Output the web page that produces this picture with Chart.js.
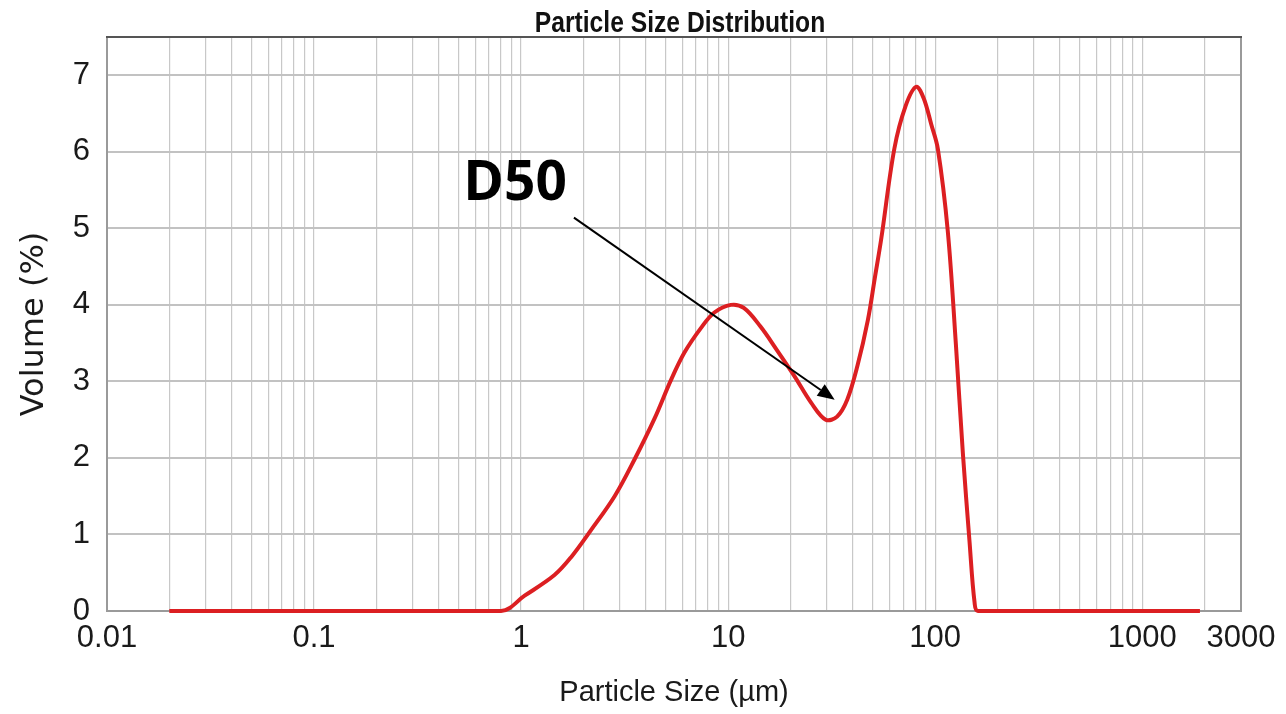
<!DOCTYPE html>
<html>
<head>
<meta charset="utf-8">
<title>Particle Size Distribution</title>
<script src="https://cdn.jsdelivr.net/npm/chart.js@4.4.1/dist/chart.umd.min.js"></script>
<style>
  html, body { margin: 0; padding: 0; background: #ffffff; }
  #wrap { width: 1286px; height: 714px; position: relative; }
</style>
</head>
<body>
<div id="wrap"><canvas id="psdChart"></canvas></div>
<script>
// --- 1. DATA ---
const sizes   = [0.02, 0.8, 1.04, 1.45, 1.74, 2.18, 2.83, 3.53, 4.42, 5.3, 6.16, 7.4, 8.58, 10.3, 11.9, 14.3, 17.2, 20.9, 25.2, 29.6, 33.6, 37.6, 42.1, 47.3, 51.1, 54.8, 63.5, 72, 81, 88, 95.7, 103, 115, 126, 136, 146.5, 155, 161, 1900];
const volumes = [0, 0, 0.2, 0.47, 0.7, 1.06, 1.5, 1.98, 2.52, 3.02, 3.38, 3.7, 3.9, 4.0, 3.96, 3.72, 3.41, 3.07, 2.72, 2.5, 2.54, 2.76, 3.2, 3.8, 4.35, 4.85, 6.04, 6.6, 6.85, 6.7, 6.36, 6.04, 4.97, 3.47, 2.07, 0.91, 0.11, 0, 0];

const xTickLabels = [0.01, 0.1, 1, 10, 100, 1000, 3000];
const yTicks = [0, 1, 2, 3, 4, 5, 6, 7];
const xDecades = [0.01, 0.1, 1, 10, 100, 1000];

const chartTitle = 'Particle Size Distribution';

// D50 note, in data units
const noteText = 'D50';
const notePos = { x: 0.936, y: 5.58 };
const arrowFrom = { x: 1.80, y: 5.14 };
const arrowTo = { x: 32.7, y: 2.76 };

// gridlines at 1..9 x each decade, up to 3000
const xGrid = [];
xDecades.forEach(d => {
    for (let m = 1; m <= 9; m++) {
        const v = Math.round(m * d * 1e6) / 1e6;
        if (v <= 3000) xGrid.push(v);
    }
});

const sans = "'Liberation Sans', Arial, sans-serif";

// --- 2. FRAME, TITLE + ANNOTATION ---
const framePlugin = {
    id: 'frameAndNote',
    beforeDatasetsDraw(chart) {
        const { ctx, chartArea: a } = chart;
        ctx.save();
        ctx.strokeStyle = '#9a9a9a';
        ctx.lineWidth = 2;
        ctx.strokeRect(a.left, a.top, a.right - a.left, a.bottom - a.top);
        ctx.strokeStyle = '#555555';
        ctx.beginPath();
        ctx.moveTo(a.left - 1, a.top);
        ctx.lineTo(a.right + 1, a.top);
        ctx.stroke();

        // condensed bold title over the plot
        ctx.font = 'bold 29px ' + sans;
        ctx.fillStyle = '#111';
        ctx.textAlign = 'center';
        ctx.textBaseline = 'alphabetic';
        ctx.translate((a.left + a.right) / 2 + 6, a.top - 5);
        ctx.scale(0.85, 1);
        ctx.fillText(chartTitle, 0, 0);
        ctx.restore();
    },
    afterDatasetsDraw(chart) {
        const { ctx, scales: { x, y } } = chart;
        const x0 = x.getPixelForValue(arrowFrom.x), y0 = y.getPixelForValue(arrowFrom.y);
        const x1 = x.getPixelForValue(arrowTo.x), y1 = y.getPixelForValue(arrowTo.y);
        const ang = Math.atan2(y1 - y0, x1 - x0);
        const head = 17, half = 7;
        ctx.save();
        ctx.strokeStyle = '#000';
        ctx.fillStyle = '#000';
        ctx.lineWidth = 2;
        ctx.beginPath();
        ctx.moveTo(x0, y0);
        ctx.lineTo(x1 - Math.cos(ang) * head, y1 - Math.sin(ang) * head);
        ctx.stroke();
        ctx.beginPath();
        ctx.moveTo(x1, y1);
        ctx.lineTo(x1 - Math.cos(ang) * head - Math.sin(ang) * half, y1 - Math.sin(ang) * head + Math.cos(ang) * half);
        ctx.lineTo(x1 - Math.cos(ang) * head + Math.sin(ang) * half, y1 - Math.sin(ang) * head - Math.cos(ang) * half);
        ctx.closePath();
        ctx.fill();

        ctx.font = "bold 55px 'Open Sans', 'Noto Sans', sans-serif";
        ctx.textAlign = 'center';
        ctx.textBaseline = 'middle';
        ctx.fillText(noteText, x.getPixelForValue(notePos.x), y.getPixelForValue(notePos.y));
        ctx.restore();
    }
};

// --- 3. CHART ---
const ctx = document.getElementById('psdChart').getContext('2d');

const chart = new Chart(ctx, {
    type: 'line',
    data: {
        datasets: [{
            label: 'Volume (%)',
            data: sizes.map((s, i) => ({ x: s, y: volumes[i] })),
            borderColor: '#dc1f22',
            borderWidth: 4,
            pointRadius: 0,
            tension: 0.35,
            fill: false,
            clip: false
        }]
    },
    options: {
        responsive: true,
        maintainAspectRatio: false,
        animation: false,
        layout: { padding: { left: 0, right: 45, top: 37, bottom: 0 } },
        plugins: {
            legend: { display: false },
            tooltip: { enabled: false },
            title: { display: false }
        },
        scales: {
            x: {
                type: 'logarithmic',
                min: 0.01,
                max: 3000,
                afterBuildTicks: (scale) => { scale.ticks = xGrid.map(v => ({ value: v })); },
                afterFit: (scale) => { scale.height = 103; },
                border: { display: false },
                grid: { color: '#c8c8c8', lineWidth: 1.2, drawTicks: false },
                ticks: {
                    autoSkip: false,
                    maxRotation: 0,
                    padding: 9,
                    color: '#1a1a1a',
                    font: { family: sans, size: 31 },
                    callback: (v) => xTickLabels.includes(v) ? String(v) : ''
                },
                title: {
                    display: true,
                    text: 'Particle Size (µm)',
                    color: '#1a1a1a',
                    font: { family: sans, size: 29 },
                    padding: { top: 0, bottom: 4 }
                }
            },
            y: {
                min: 0,
                max: 7.5,
                afterBuildTicks: (scale) => { scale.ticks = yTicks.map(v => ({ value: v })); },
                afterFit: (scale) => { scale.width = 107; },
                border: { display: false },
                grid: { color: '#c2c2c2', lineWidth: 2, drawTicks: false },
                ticks: {
                    padding: 17,
                    color: '#1a1a1a',
                    font: { family: sans, size: 31 }
                },
                title: {
                    display: true,
                    text: 'Volume (%)',
                    color: '#1a1a1a',
                    font: { family: "'DejaVu Sans', sans-serif", size: 32 },
                    padding: { top: 15, bottom: 0 }
                }
            }
        }
    },
    plugins: [framePlugin]
});
</script>
</body>
</html>
